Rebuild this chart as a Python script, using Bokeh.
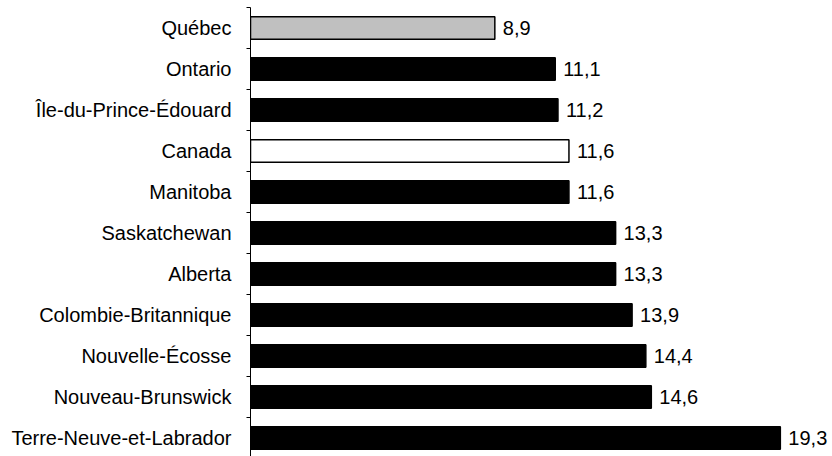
from bokeh.plotting import figure
from bokeh.models import ColumnDataSource, Range1d, FixedTicker
from bokeh.core.properties import value
from bokeh.embed import file_html
from bokeh.resources import INLINE

categories = ["Québec", "Ontario", "Île-du-Prince-Édouard", "Canada", "Manitoba",
              "Saskatchewan", "Alberta", "Colombie-Britannique", "Nouvelle-Écosse",
              "Nouveau-Brunswick", "Terre-Neuve-et-Labrador"]
values = [8.9, 11.1, 11.2, 11.6, 11.6, 13.3, 13.3, 13.9, 14.4, 14.6, 19.3]
fills = ["#c0c0c0", "black", "black", "white", "black", "black", "black",
         "black", "black", "black", "black"]

pos = list(range(1, len(categories) + 1))
labels = [f"{v:.1f}".replace(".", ",") for v in values]

src = ColumnDataSource(dict(y=pos, v=values, fill=fills, lab=labels, cat=categories))

p = figure(width=832, height=456, output_backend="svg", toolbar_location=None,
           x_range=Range1d(0, 21.2), y_range=Range1d(11.45, 0.5),
           min_border_left=250, min_border_right=0, min_border_top=7,
           min_border_bottom=0)
p.outline_line_color = None
p.xaxis.visible = False
p.xgrid.visible = False
p.ygrid.visible = False

p.hbar(y="y", left=0, right="v", height=0.55, fill_color="fill",
       line_color="black", line_width=1.5, source=src)
p.text(x="v", y="y", text="lab", x_offset=8, text_baseline="middle",
       text_align="left", text_font=value("Liberation Sans"),
       text_font_size="20px", text_color="black", source=src)

ax = p.yaxis[0]
ax.ticker = FixedTicker(ticks=pos, minor_ticks=[i + 0.5 for i in range(0, len(categories) + 1)])
ax.major_label_overrides = {i: c for i, c in zip(pos, categories)}
ax.major_tick_out = 0
ax.major_tick_in = 0
ax.minor_tick_out = 4
ax.minor_tick_in = 0
ax.minor_tick_line_color = "black"
ax.axis_line_color = "black"
ax.axis_line_width = 1
ax.major_label_standoff = 15
ax.major_label_text_font = "Liberation Sans"
ax.major_label_text_font_size = "20px"
ax.major_label_text_color = "black"

open("out.html", "w").write(file_html(p, INLINE))
